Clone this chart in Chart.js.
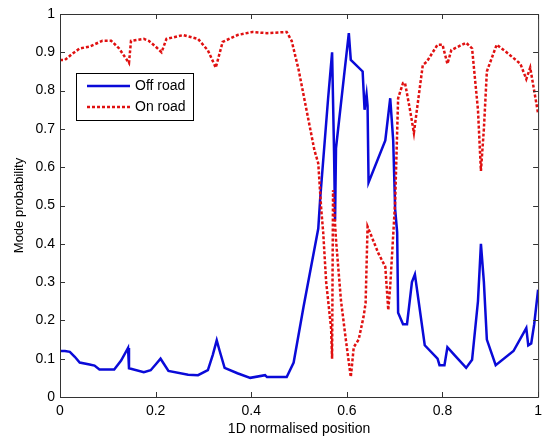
<!DOCTYPE html>
<html>
<head>
<meta charset="utf-8">
<script src="https://cdn.jsdelivr.net/npm/chart.js@4"></script>
<style>
  html, body { margin: 0; padding: 0; background: #fff; overflow: hidden; }
  #wrap { width: 548px; height: 440px; }
</style>
</head>
<body>
<div id="wrap"><canvas id="chart" width="548" height="440"></canvas></div>
<script>
// values
const offRoadX = [0, 0.0103, 0.0206, 0.0309, 0.0412, 0.0619, 0.0722, 0.0825, 0.1134, 0.1278, 0.1423, 0.1443,
  0.1753, 0.1897, 0.2, 0.2103, 0.2268, 0.268, 0.2887, 0.3093, 0.3196, 0.3278, 0.334, 0.3443, 0.3711, 0.3979,
  0.4289, 0.433, 0.4742, 0.4887, 0.5093, 0.5402, 0.5443, 0.5608, 0.5691, 0.5732, 0.5753, 0.5773, 0.5938,
  0.6041, 0.6082, 0.633, 0.635, 0.637, 0.6412, 0.6433, 0.6454, 0.6804, 0.6907, 0.6969, 0.701, 0.7052, 0.7072,
  0.7175, 0.7258, 0.7361, 0.7423, 0.7629, 0.7897, 0.7938, 0.8041, 0.8103, 0.8247, 0.8495, 0.8619, 0.8742,
  0.8804, 0.8866, 0.8928, 0.9113, 0.9485, 0.9753, 0.9794, 0.9856, 0.9918, 1.0];
const offRoadY = [0.12, 0.12, 0.118, 0.105, 0.09, 0.085, 0.082, 0.072, 0.072, 0.095, 0.128, 0.075,
  0.065, 0.07, 0.085, 0.10, 0.068, 0.058, 0.057, 0.07, 0.11, 0.148, 0.12, 0.076, 0.062, 0.05,
  0.057, 0.052, 0.052, 0.09, 0.235, 0.44, 0.52, 0.78, 0.90, 0.64, 0.46, 0.65, 0.835,
  0.95, 0.88, 0.85, 0.80, 0.75, 0.79, 0.76, 0.56, 0.67, 0.78, 0.67, 0.49, 0.43, 0.22,
  0.19, 0.19, 0.30, 0.32, 0.135, 0.10, 0.083, 0.083, 0.13, 0.11, 0.076, 0.097, 0.25,
  0.40, 0.30, 0.15, 0.083, 0.12, 0.18, 0.135, 0.14, 0.19, 0.28];

const onRoadX = [0, 0.0103, 0.0247, 0.0412, 0.0619, 0.0887, 0.1072, 0.1237, 0.1443, 0.1485, 0.1753, 0.1856,
  0.2, 0.2124, 0.2227, 0.2577, 0.2887, 0.3093, 0.3258, 0.3402, 0.3711, 0.4021, 0.433, 0.4742, 0.4845, 0.499,
  0.5155, 0.532, 0.5402, 0.5464, 0.5505, 0.5567, 0.567, 0.5691, 0.5711, 0.5773, 0.5876, 0.5979, 0.6082,
  0.6144, 0.6247, 0.635, 0.6392, 0.6433, 0.666, 0.6804, 0.6866, 0.6907, 0.701, 0.7072, 0.7175, 0.7216,
  0.732, 0.7402, 0.7588, 0.767, 0.7897, 0.8, 0.8103, 0.8186, 0.8495, 0.8619, 0.8742, 0.8804, 0.8866,
  0.8928, 0.9134, 0.934, 0.9629, 0.9753, 0.9835, 1.0];
const onRoadY = [0.88, 0.88, 0.895, 0.91, 0.915, 0.93, 0.93, 0.91, 0.872, 0.93, 0.935, 0.93,
  0.915, 0.90, 0.935, 0.945, 0.935, 0.905, 0.86, 0.927, 0.945, 0.953, 0.95, 0.953, 0.93, 0.855,
  0.75, 0.645, 0.61, 0.49, 0.43, 0.30, 0.18, 0.10, 0.54, 0.41, 0.253, 0.149, 0.052,
  0.13, 0.15, 0.21, 0.245, 0.445, 0.375, 0.34, 0.227, 0.29, 0.51, 0.78, 0.82, 0.82,
  0.75, 0.69, 0.867, 0.875, 0.92, 0.92, 0.87, 0.906, 0.925, 0.91, 0.75, 0.59, 0.70,
  0.85, 0.92, 0.90, 0.87, 0.83, 0.86, 0.74];

const xTicks = [0, 0.2, 0.4, 0.6, 0.8, 1];
const yTicks = [0, 0.1, 0.2, 0.3, 0.4, 0.5, 0.6, 0.7, 0.8, 0.9, 1];

const toPoints = (xs, ys) => xs.map((x, i) => ({ x: x, y: ys[i] }));
const FONT = 'Liberation Sans, Arial, Helvetica, sans-serif';

// matlab style box with inward ticks on all four sides
const boxPlugin = {
  id: 'matlabBox',
  afterDraw(chart) {
    const { ctx, chartArea: a, scales: { x, y } } = chart;
    const len = 5;
    ctx.save();
    ctx.strokeStyle = '#333';
    ctx.lineWidth = 1;
    ctx.beginPath();
    ctx.rect(a.left + 0.5, a.top + 0.5, a.right - a.left, a.bottom - a.top);
    xTicks.forEach(v => {
      const px = Math.round(x.getPixelForValue(v)) + 0.5;
      ctx.moveTo(px, a.bottom); ctx.lineTo(px, a.bottom - len);
      ctx.moveTo(px, a.top); ctx.lineTo(px, a.top + len);
    });
    yTicks.forEach(v => {
      const py = Math.round(y.getPixelForValue(v)) + 0.5;
      ctx.moveTo(a.left, py); ctx.lineTo(a.left + len, py);
      ctx.moveTo(a.right, py); ctx.lineTo(a.right - len, py);
    });
    ctx.stroke();

    // legend box, top left inside the axes
    const bx = 76, by = 73, bw = 117, bh = 47;
    ctx.fillStyle = '#fff';
    ctx.fillRect(bx, by, bw, bh);
    ctx.strokeStyle = '#000';
    ctx.strokeRect(bx + 0.5, by + 0.5, bw, bh);
    ctx.font = '14px ' + FONT;
    ctx.textBaseline = 'middle';
    chart.data.datasets.forEach((ds, i) => {
      const ly = by + 13 + i * 21;
      ctx.beginPath();
      ctx.strokeStyle = ds.borderColor;
      ctx.lineWidth = ds.borderWidth;
      ctx.setLineDash(ds.borderDash || []);
      ctx.moveTo(bx + 11, ly); ctx.lineTo(bx + 54, ly);
      ctx.stroke();
      ctx.setLineDash([]);
      ctx.fillStyle = '#000';
      ctx.fillText(ds.label, bx + 59, ly);
    });
    ctx.restore();
  }
};

new Chart(document.getElementById('chart'), {
  type: 'scatter',
  data: {
    datasets: [{
      label: 'Off road',
      data: toPoints(offRoadX, offRoadY),
      showLine: true,
      borderColor: '#0a0ad8',
      borderWidth: 2.5,
      pointRadius: 0,
      order: 1
    }, {
      label: 'On road',
      data: toPoints(onRoadX, onRoadY),
      showLine: true,
      borderColor: '#e01010',
      borderWidth: 2.5,
      borderDash: [3, 2],
      pointRadius: 0,
      order: 0
    }]
  },
  plugins: [boxPlugin],
  options: {
    responsive: false,
    animation: false,
    layout: { padding: { top: 14, right: 3, bottom: 0, left: 0 } },
    plugins: { legend: { display: false }, tooltip: { enabled: false } },
    scales: {
      x: {
        type: 'linear', min: 0, max: 1,
        afterFit: s => { s.height = 43; },
        afterBuildTicks: s => { s.ticks = xTicks.map(v => ({ value: v })); },
        grid: { display: false, drawTicks: false },
        border: { display: false },
        ticks: { padding: 6, color: '#000', maxRotation: 0, font: { family: FONT, size: 14 },
          callback: v => String(+v.toFixed(1)) },
        title: { display: true, text: '1D normalised position', color: '#000',
          font: { family: FONT, size: 14 }, padding: { top: 0, bottom: 2 } }
      },
      y: {
        type: 'linear', min: 0, max: 1,
        afterFit: s => { s.width = 60; },
        afterBuildTicks: s => { s.ticks = yTicks.map(v => ({ value: v })); },
        grid: { display: false, drawTicks: false },
        border: { display: false },
        ticks: { padding: 5, color: '#000', font: { family: FONT, size: 14 },
          callback: v => String(+v.toFixed(1)) },
        title: { display: true, text: 'Mode probability', color: '#000',
          font: { family: FONT, size: 13 }, padding: { top: 12, bottom: 0 } }
      }
    }
  }
});
</script>
</body>
</html>
